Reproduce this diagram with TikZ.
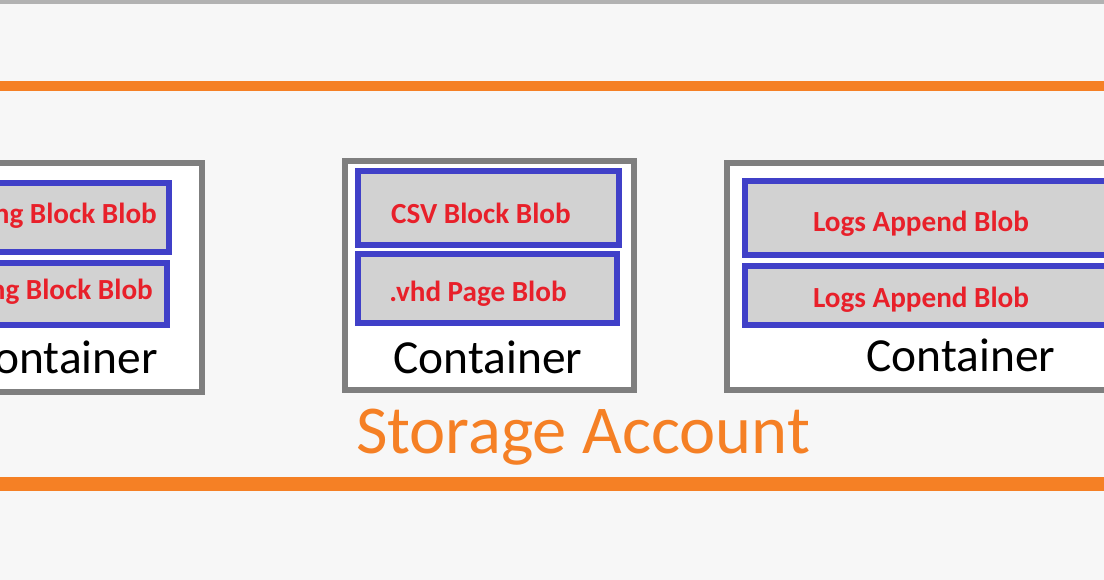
\documentclass[tikz,border=0pt]{standalone}
\usepackage{fontspec}
\setmainfont{Carlito}
\definecolor{org}{HTML}{F58025}
\definecolor{blu}{HTML}{4040C8}
\definecolor{red1}{HTML}{E8202A}
\definecolor{gry}{HTML}{7F7F7F}
\tikzset{
 cont/.style={draw=gry,line width=3.4pt,fill=white},
 blob/.style={draw=blu,line width=3.4pt,fill=gray!35},
 blobtxt/.style={text=red1,font=\fontsize{16.6}{18}\selectfont\bfseries},
 conttxt/.style={font=\fontsize{27}{30}\selectfont},
 band/.style={draw=org,line width=6pt}
}
\begin{document}
\begin{tikzpicture}[x=0.02cm,y=-0.02cm]
\useasboundingbox (0,0) rectangle (1104,580);
\clip (0,0) rectangle (1104,580);
\fill[gray!6] (0,0) rectangle (1104,580);
\coordinate (tl) at (0,2); \coordinate (tr) at (1104,2);
\draw[gray!60,line width=2pt] (tl) -- (tr);
\coordinate (ol) at (-5,86); \coordinate (or) at (1110,86);
\draw[band] (ol) -- (or);
\coordinate (bl) at (-5,484); \coordinate (br) at (1110,484);
\draw[band,line width=8pt] (bl) -- (br);
% left
\draw[cont] (-30,163) rectangle (202,392);
\draw[blob] (-30,183) rectangle (169,252);
\draw[blob] (-30,263) rectangle (167,325);
\node[blobtxt,anchor=east] (l1) at (163,216) {Png Block Blob};
\node[blobtxt,anchor=east] (l2) at (159,292) {Png Block Blob};
\node[conttxt,anchor=east] (lc) at (164,357) {Container};
% middle
\draw[cont] (345,161) rectangle (634,390);
\draw[blob] (358,171) rectangle (619,245);
\draw[blob] (358,254) rectangle (617,323);
\node[blobtxt] (m1) at (481,213) {CSV Block Blob};
\node[blobtxt] (m2) at (478,294) {.vhd Page Blob};
\node[conttxt] (mc) at (488,357) {Container};
% right
\draw[cont] (727,163) rectangle (1140,390);
\draw[blob] (745,181) rectangle (1130,255);
\draw[blob] (745,266) rectangle (1130,325);
\node[blobtxt] (r1) at (921,224) {Logs Append Blob};
\node[blobtxt] (r2) at (921,300) {Logs Append Blob};
\node[conttxt] (rc) at (961,355) {Container};
\node[text=org,font=\fontsize{39}{44}\selectfont] (sa) at (583,437) {Storage Account};
\end{tikzpicture}
\end{document}
